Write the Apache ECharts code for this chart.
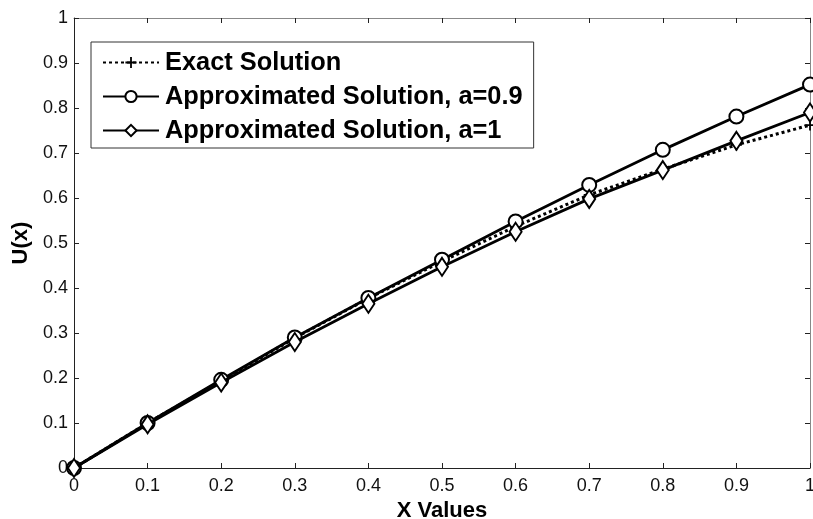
<!DOCTYPE html>
<html><head><meta charset="utf-8">
<script src="https://cdn.jsdelivr.net/npm/echarts@6/dist/echarts.min.js"></script>
<style>html,body{margin:0;padding:0;background:#fff}#c{width:813px;height:519px}</style>
</head><body><div id="c"></div>
<script>
const xValues = [0, 0.1, 0.2, 0.3, 0.4, 0.5, 0.6, 0.7, 0.8, 0.9, 1];
const exactSolution = [0, 0.1, 0.194, 0.289, 0.377, 0.459, 0.537, 0.607, 0.664, 0.718, 0.762];
const approxA09 = [0, 0.1, 0.196, 0.29, 0.378, 0.463, 0.548, 0.629, 0.707, 0.781, 0.852];
const approxA1 = [0, 0.097, 0.19, 0.28, 0.365, 0.447, 0.525, 0.598, 0.662, 0.727, 0.79];
const seriesNames = ['Exact Solution', 'Approximated Solution, a=0.9', 'Approximated Solution, a=1'];
const xAxisName = 'X Values';
const yAxisName = 'U(x)';

const pair = ys => xValues.map((x, i) => [x, ys[i]]);
const FONT = 'Liberation Sans, Arial, Helvetica, sans-serif';
const plus = 'path://M4.2,0H5.8V4.2H10V5.8H5.8V10H4.2V5.8H0V4.2H4.2Z';

const chart = echarts.init(document.getElementById('c'), null, {renderer: 'canvas'});
const baseTick = {show: true, inside: true, length: 5, lineStyle: {color: '#222', width: 1}};
chart.setOption({
  animation: false,
  backgroundColor: '#fff',
  grid: {left: 74, right: 3, top: 18, bottom: 51, containLabel: false, outerBoundsMode: 'none'},
  legend: {
    orient: 'vertical', left: 91, top: 42,
    padding: [8, 11, 5, 11],
    itemGap: 9,
    itemWidth: 56, itemHeight: 14,
    backgroundColor: '#fff',
    borderColor: '#333', borderWidth: 1, borderRadius: 0,
    textStyle: {fontFamily: FONT, fontSize: 25.4, lineHeight: 25, fontWeight: 'bold', color: '#000', padding: [0, 0, 0, 1]},
    data: seriesNames
  },
  xAxis: [{
    type: 'value', min: 0, max: 1, interval: 0.1,
    name: xAxisName, nameLocation: 'middle', nameGap: 29,
    nameTextStyle: {fontFamily: FONT, fontSize: 22, fontWeight: 'bold', color: '#000'},
    axisLine: {show: true, onZero: false, lineStyle: {color: '#222', width: 1}},
    axisTick: baseTick,
    axisLabel: {fontFamily: FONT, fontSize: 18, color: '#111', margin: 9,
      formatter: v => (Math.round(v * 10) / 10).toString()},
    splitLine: {show: false}
  }, {
    type: 'value', min: 0, max: 1, interval: 0.1, position: 'top',
    axisLine: {show: true, onZero: false, lineStyle: {color: '#888', width: 1}},
    axisTick: baseTick, axisLabel: {show: false}, splitLine: {show: false}
  }],
  yAxis: [{
    type: 'value', min: 0, max: 1, interval: 0.1,
    name: yAxisName, nameLocation: 'middle', nameGap: 40, nameRotate: 90,
    nameTextStyle: {fontFamily: FONT, fontSize: 22, fontWeight: 'bold', color: '#000'},
    axisLine: {show: true, onZero: false, lineStyle: {color: '#222', width: 1}},
    axisTick: baseTick,
    axisLabel: {fontFamily: FONT, fontSize: 18, color: '#111', margin: 6,
      formatter: v => (Math.round(v * 10) / 10).toString()},
    splitLine: {show: false}
  }, {
    type: 'value', min: 0, max: 1, interval: 0.1, position: 'right',
    axisLine: {show: true, onZero: false, lineStyle: {color: '#888', width: 1}},
    axisTick: baseTick, axisLabel: {show: false}, splitLine: {show: false}
  }],
  series: [{
    name: seriesNames[0], type: 'line', data: pair(exactSolution),
    symbol: plus, symbolSize: 11, showSymbol: true,
    lineStyle: {color: '#000', width: 3, type: [3, 3]},
    itemStyle: {color: '#000'}, z: 3
  }, {
    name: seriesNames[1], type: 'line', data: pair(approxA09),
    symbol: 'emptyCircle', symbolSize: 14,
    lineStyle: {color: '#000', width: 2.8},
    itemStyle: {color: '#000', borderWidth: 2, borderColor: '#000'}, z: 4
  }, {
    name: seriesNames[2], type: 'line', data: pair(approxA1),
    symbol: 'emptyDiamond', symbolSize: [12, 18],
    lineStyle: {color: '#000', width: 2.8},
    itemStyle: {color: '#000', borderWidth: 2, borderColor: '#000'}, z: 5
  }]
});
</script></body></html>
